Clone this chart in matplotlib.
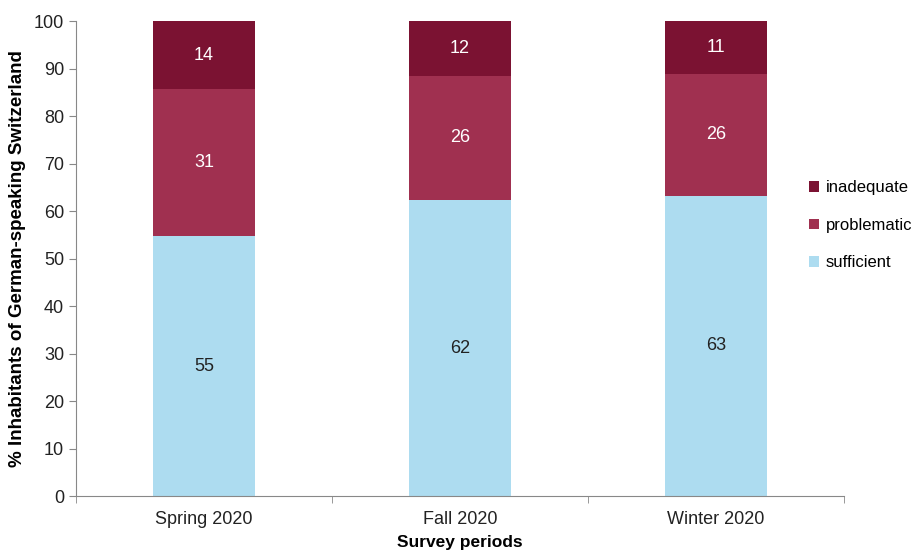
import numpy as np
import matplotlib.pyplot as plt
from matplotlib.ticker import FixedLocator

plt.rcParams['font.family'] = ['Liberation Sans', 'DejaVu Sans']

periods = ["Spring 2020", "Fall 2020", "Winter 2020"]
sufficient = [55, 62, 63]
problematic = [31, 26, 26]
inadequate = [14, 12, 11]

# plotted heights (values in picture are rounded labels)
h_suff = [54.7, 62.3, 63.2]
h_prob = [30.9, 26.2, 25.7]
h_inad = [14.4, 11.5, 11.1]

c_suff = "#ADDCF0"
c_prob = "#A03050"
c_inad = "#7B1232"

fig = plt.figure(figsize=(9.17, 5.51), dpi=100)
ax = fig.add_axes([0.0829, 0.0998, 0.8375, 0.862])

x = np.arange(len(periods))
w = 0.4
b1 = ax.bar(x, h_suff, w, color=c_suff, label="sufficient")
b2 = ax.bar(x, h_prob, w, bottom=h_suff, color=c_prob, label="problematic")
bot3 = np.array(h_suff) + np.array(h_prob)
b3 = ax.bar(x, h_inad, w, bottom=bot3, color=c_inad, label="inadequate")

fs = 13
for i in range(len(x)):
    ax.text(x[i], h_suff[i] / 2, str(sufficient[i]), ha="center", va="center", fontsize=fs, color="#222222")
    ax.text(x[i], h_suff[i] + h_prob[i] / 2, str(problematic[i]), ha="center", va="center", fontsize=fs, color="white")
    ax.text(x[i], bot3[i] + h_inad[i] / 2, str(inadequate[i]), ha="center", va="center", fontsize=fs, color="white")

ax.set_xlim(-0.5, 2.5)
ax.set_ylim(0, 100)
ax.set_yticks(range(0, 101, 10))
ax.set_xticks(x)
ax.set_xticklabels(periods)
ax.xaxis.set_minor_locator(FixedLocator([-0.5, 0.5, 1.5, 2.5]))
ax.tick_params(axis="x", which="major", length=0, labelsize=fs, pad=11, colors="#222222")
ax.tick_params(axis="x", which="minor", length=5, color="#888888")
ax.tick_params(axis="y", length=5, color="#888888", labelsize=fs, labelcolor="#222222")

for s in ["top", "right"]:
    ax.spines[s].set_visible(False)
for s in ["left", "bottom"]:
    ax.spines[s].set_color("#888888")

ax.set_ylabel("% Inhabitants of German-speaking Switzerland", fontsize=13.5, fontweight="bold", labelpad=6)
ax.set_xlabel("Survey periods", fontsize=12.5, fontweight="bold", labelpad=5)

leg = ax.legend(handles=[b3, b2, b1], loc="center left", bbox_to_anchor=(0.935, 0.57),
                frameon=False, fontsize=12, handlelength=0.6, handleheight=0.6,
                handletextpad=0.4, labelspacing=1.35)

fig.savefig("out.png", dpi=100)
